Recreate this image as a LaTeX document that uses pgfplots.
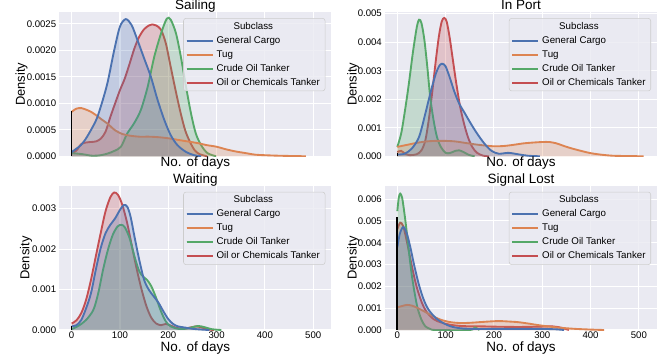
\documentclass[border=0pt]{standalone}
\usepackage{fontspec}
\setmainfont{Liberation Sans}
\usepackage{pgfplots}
\pgfplotsset{compat=1.18}
\usepackage{pgfplotstable}

\definecolor{sbblue}{HTML}{4C72B0}
\definecolor{sborange}{HTML}{DD8452}
\definecolor{sbgreen}{HTML}{55A868}
\definecolor{sbred}{HTML}{C44E52}
\definecolor{sbbg}{HTML}{EAEAF2}
\definecolor{legedge}{HTML}{CCCCCC}

% ---------------- Sailing ----------------
\pgfplotstableread{
x y
0 0.00008
19 0.00021
32 0.00037
50 0.00067
60 0.00093
74 0.00138
88 0.0020
100 0.00245
112 0.00259
124 0.00248
136 0.0022
150 0.00185
164 0.0015
178 0.00106
192 0.00068
205 0.0004
219 0.00021
237 0.00008
254 0.00002
268 0
}\SailGC
\pgfplotstableread{
x y
0 0.00084
10 0.0009
20 0.00091
30 0.00088
40 0.00084
50 0.00078
60 0.00071
75 0.00061
90 0.00049
105 0.00042
120 0.00039
140 0.00037
160 0.00037
180 0.00036
200 0.00034
220 0.00031
240 0.00028
260 0.00025
280 0.00021
300 0.00018
320 0.00013
340 0.00009
360 0.00006
380 0.00003
400 0.00002
430 0.00001
485 0
}\SailTug
\pgfplotstableread{
x y
0 0.00006
22 0.00004
43 0.00001
60 0.00002
74 0.00005
88 0.0001
102 0.00018
115 0.00043
129 0.00062
143 0.00087
157 0.0013
171 0.00188
185 0.00232
197 0.0026
205 0.00258
216 0.00232
226 0.00188
237 0.0013
247 0.00081
257 0.00043
268 0.00021
281 0.00006
299 0
}\SailCrude
\pgfplotstableread{
x y
0 0.00005
10 0.00011
20 0.00023
30 0.00026
40 0.00027
50 0.00028
60 0.00033
70 0.00046
80 0.00074
90 0.001
100 0.00125
110 0.00147
120 0.00175
130 0.00204
140 0.00226
150 0.0024
160 0.00247
168 0.00249
175 0.00247
185 0.00239
195 0.00213
205 0.00169
215 0.00125
225 0.00084
235 0.00049
245 0.00027
255 0.00011
265 0.00004
280 0
}\SailOC

% ---------------- In Port ----------------
\pgfplotstableread{
x y
0 0.00006
15 0.00009
30 0.00027
45 0.00068
58 0.0015
70 0.00232
80 0.00291
88 0.0032
94 0.00324
100 0.00315
108 0.00279
118 0.00227
128 0.00185
140 0.0015
152 0.00115
165 0.0008
180 0.00045
195 0.00019
210 0.00009
230 0.00012
250 0.00007
270 0.00002
295 0
}\PortGC
\pgfplotstableread{
x y
0 0.00033
20 0.0004
40 0.00047
60 0.00052
80 0.00054
100 0.00054
120 0.00052
140 0.00047
160 0.00042
180 0.00038
200 0.00035
220 0.00036
240 0.0004
260 0.00045
280 0.00048
300 0.0005
315 0.0005
330 0.00045
345 0.00036
360 0.00028
380 0.00019
400 0.00011
420 0.00006
445 0.00002
470 0.00001
510 0
}\PortTug
\pgfplotstableread{
x y
0 0.00033
8 0.0008
16 0.00162
24 0.00256
32 0.00361
40 0.0045
45 0.00479
50 0.00467
56 0.00408
62 0.00315
68 0.00209
75 0.00127
82 0.00068
90 0.00033
100 0.00012
110 0.00012
120 0.00019
128 0.00021
138 0.00014
148 0.00005
160 0
}\PortCrude
\pgfplotstableread{
x y
0 0.00015
8 0.00019
16 0.00009
26 0.00004
40 0.00007
50 0.00021
58 0.00056
65 0.00127
72 0.00221
79 0.00326
86 0.0042
92 0.00473
97 0.00485
102 0.00473
108 0.0042
115 0.00338
122 0.00256
130 0.00174
138 0.00115
146 0.00068
155 0.00033
165 0.00012
178 0.00002
190 0
}\PortOC

% ---------------- Waiting ----------------
\pgfplotstableread{
x y
0 0.00009
10 0.00012
20 0.00025
30 0.00054
40 0.00091
50 0.00149
60 0.00202
70 0.00239
80 0.0026
90 0.00276
100 0.00297
108 0.00309
115 0.00305
122 0.0028
130 0.00231
140 0.00173
150 0.00124
160 0.00099
170 0.00083
180 0.00067
190 0.00046
200 0.00027
210 0.00015
220 0.00009
235 0.00006
250 0.00003
270 0.00001
285 0
}\WaitGC
\pgfplotstableread{
x y
0 0.00002
15 0.00011
30 0.00025
45 0.0005
55 0.00091
65 0.00149
75 0.00198
85 0.00235
95 0.00256
103 0.0026
110 0.00254
120 0.00227
130 0.00182
140 0.00145
148 0.00132
156 0.00124
165 0.00108
175 0.00079
185 0.00046
195 0.00021
205 0.00009
220 0.00003
235 0.00003
250 0.00007
262 0.0001
275 0.00007
290 0.00002
310 0
}\WaitCrude
\pgfplotstableread{
x y
0 0.00016
10 0.00024
20 0.00042
30 0.00075
40 0.00124
50 0.00182
60 0.00239
70 0.00293
80 0.00328
88 0.0034
96 0.00334
105 0.00309
115 0.00264
125 0.00206
135 0.00149
145 0.00099
155 0.00058
165 0.0003
175 0.00016
185 0.00012
195 0.00015
205 0.00011
215 0.00006
230 0.00003
245 0.00006
258 0.00009
270 0.00006
285 0.00001
295 0
}\WaitOC

% ---------------- Signal Lost ----------------
\pgfplotstableread{
x y
0 0.00379
5 0.0044
10 0.00467
14 0.0047
20 0.0044
27 0.00379
35 0.00296
45 0.00205
55 0.00137
65 0.00092
80 0.00054
95 0.00032
110 0.00017
130 0.00008
160 0.00005
200 0.00005
250 0.00005
300 0.00005
330 0.00003
345 0
}\SigGC
\pgfplotstableread{
x y
0 0.00104
10 0.0011
20 0.00115
30 0.00112
40 0.00103
50 0.00092
60 0.0008
75 0.00062
90 0.00047
110 0.00036
130 0.00032
150 0.00033
170 0.00036
190 0.00039
210 0.00041
230 0.00039
250 0.00036
270 0.0003
290 0.00023
310 0.00017
330 0.00012
350 0.00008
370 0.00005
400 0.00002
428 0
}\SigTug
\pgfplotstableread{
x y
0 0.00545
3 0.00606
6 0.00625
10 0.00606
15 0.0053
20 0.0044
25 0.00341
30 0.00251
36 0.00168
42 0.001
50 0.00047
58 0.00017
68 0.00005
80 0
150 0
160 0.00012
170 0
}\SigCrude
\pgfplotstableread{
x y
0 0.00462
6 0.00492
12 0.00477
18 0.00424
25 0.00349
32 0.00273
40 0.00198
50 0.0013
60 0.00085
75 0.0005
90 0.00035
110 0.00024
135 0.00018
170 0.00017
210 0.00015
250 0.00014
290 0.00015
320 0.00017
340 0.0001
355 0
}\SigOC

\newcommand{\kde}[2]{%
  \addplot[draw=none, fill=#1, fill opacity=0.25, forget plot, smooth] table {#2} \closedcycle;
  \addplot[#1, line width=1.4pt, forget plot, smooth] table {#2};
}
\newcommand{\legendentries}{%
  \addlegendimage{empty legend}\addlegendentry{\hspace{12.75pt}Subclass}
  \addlegendimage{sbblue, line width=1.4pt}\addlegendentry{General Cargo}
  \addlegendimage{sborange, line width=1.4pt}\addlegendentry{Tug}
  \addlegendimage{sbgreen, line width=1.4pt}\addlegendentry{Crude Oil Tanker}
  \addlegendimage{sbred, line width=1.4pt}\addlegendentry{Oil or Chemicals Tanker}
}

\pgfplotsset{
  every axis title shift=0pt,
  kdepanel/.style={
    scale only axis, width=204pt, height=108pt,
    xmin=-25.5, xmax=537.5, ymin=0,
    axis background/.style={fill=sbbg},
    axis line style={draw=none},
    major tick length=0pt,
    grid=major, major grid style={white, line width=0.8pt},
    xtick={0,100,200,300,400,500},
    tick label style={font=\fontsize{7.2}{8}\selectfont},
    /pgf/number format/assume math mode=true,
    scaled y ticks=false,
    yticklabel style={/pgf/number format/fixed, /pgf/number format/fixed zerofill, /pgf/number format/precision=3, anchor=east, inner sep=0pt, xshift=-2.2pt},
    xticklabel style={anchor=base, inner sep=0pt, yshift=-6.4pt},
    title style={font=\fontsize{10.1}{12}\selectfont, at={(0.5,1)}, anchor=base, yshift=2.1pt, inner sep=0pt},
    xlabel={No. of days},
    ylabel={Density},
    ylabel style={font=\fontsize{9.7}{11}\selectfont, anchor=base, inner sep=0pt},
    xlabel style={font=\fontsize{10.1}{12}\selectfont, at={(axis description cs:0.5,0)}, anchor=base, inner sep=0pt},
    legend image code/.code={\draw[##1] (0pt,0pt) -- (16.5pt,0pt); \path (0pt,0pt) -- (19.5pt,0pt);},
    legend style={
      at={(0.978,0.96)}, anchor=north east,
      draw=legedge, fill=sbbg, fill opacity=0.8, draw opacity=1, text opacity=1,
      rounded corners=2pt,
      font=\fontsize{7.3}{8}\selectfont,
      inner xsep=1.7pt, inner ysep=1pt,
      row sep=0pt,
      nodes={inner xsep=2.2pt, inner ysep=1.7pt, text height=5.4pt, text depth=1.7pt},
      cells={anchor=west},
    },
  },
}

\begin{document}
\begin{tikzpicture}
\useasboundingbox (0,0) rectangle (503.25pt,-270.75pt);

% Sailing
\begin{axis}[kdepanel, at={(44.5pt,-9.2pt)}, anchor=north west,
  title={Sailing}, ymax=0.00272,
  ytick={0,0.0005,0.001,0.0015,0.002,0.0025},
  yticklabel style={/pgf/number format/precision=4},
  xticklabels={}, xlabel style={yshift=-7.9pt},
  ylabel style={at={(axis description cs:-0.127,0.5)}}]
\legendentries
\kde{sbred}{\SailOC}
\kde{sbgreen}{\SailCrude}
\kde{sborange}{\SailTug}
\kde{sbblue}{\SailGC}
\addplot[black, line width=1.2pt, forget plot] coordinates {(0,0) (0,0.00085)};
\end{axis}

% In Port
\begin{axis}[kdepanel, at={(288.75pt,-9.2pt)}, anchor=north west,
  title={In Port}, ymax=0.00505,
  ytick={0,0.001,0.002,0.003,0.004,0.005},
  xticklabels={}, xlabel style={yshift=-7.9pt},
  ylabel style={at={(axis description cs:-0.104,0.5)}}]
\legendentries
\kde{sbred}{\PortOC}
\kde{sbgreen}{\PortCrude}
\kde{sborange}{\PortTug}
\kde{sbblue}{\PortGC}
\addplot[black, line width=1.2pt, forget plot] coordinates {(0,0) (0,0.00013)};
\end{axis}

% Waiting
\begin{axis}[kdepanel, at={(44.5pt,-139.5pt)}, anchor=north west,
  title={Waiting}, ymax=0.00356,
  ytick={0,0.001,0.002,0.003},
  xlabel style={yshift=-16.1pt},
  ylabel style={at={(axis description cs:-0.110,0.5)}}]
\legendentries
\kde{sbred}{\WaitOC}
\kde{sbgreen}{\WaitCrude}
\kde{sbblue}{\WaitGC}
\addplot[black, line width=1.2pt, forget plot] coordinates {(0,0) (0,0.0001)};
\end{axis}

% Signal Lost
\begin{axis}[kdepanel, at={(288.75pt,-139.5pt)}, anchor=north west,
  title={Signal Lost}, ymax=0.0066,
  ytick={0,0.001,0.002,0.003,0.004,0.005,0.006},
  xlabel style={yshift=-16.1pt},
  ylabel style={at={(axis description cs:-0.104,0.5)}}]
\legendentries
\kde{sbred}{\SigOC}
\kde{sbgreen}{\SigCrude}
\kde{sborange}{\SigTug}
\kde{sbblue}{\SigGC}
\addplot[black, line width=1.5pt, forget plot] coordinates {(0,0) (0,0.0052)};
\end{axis}
\end{tikzpicture}
\end{document}
